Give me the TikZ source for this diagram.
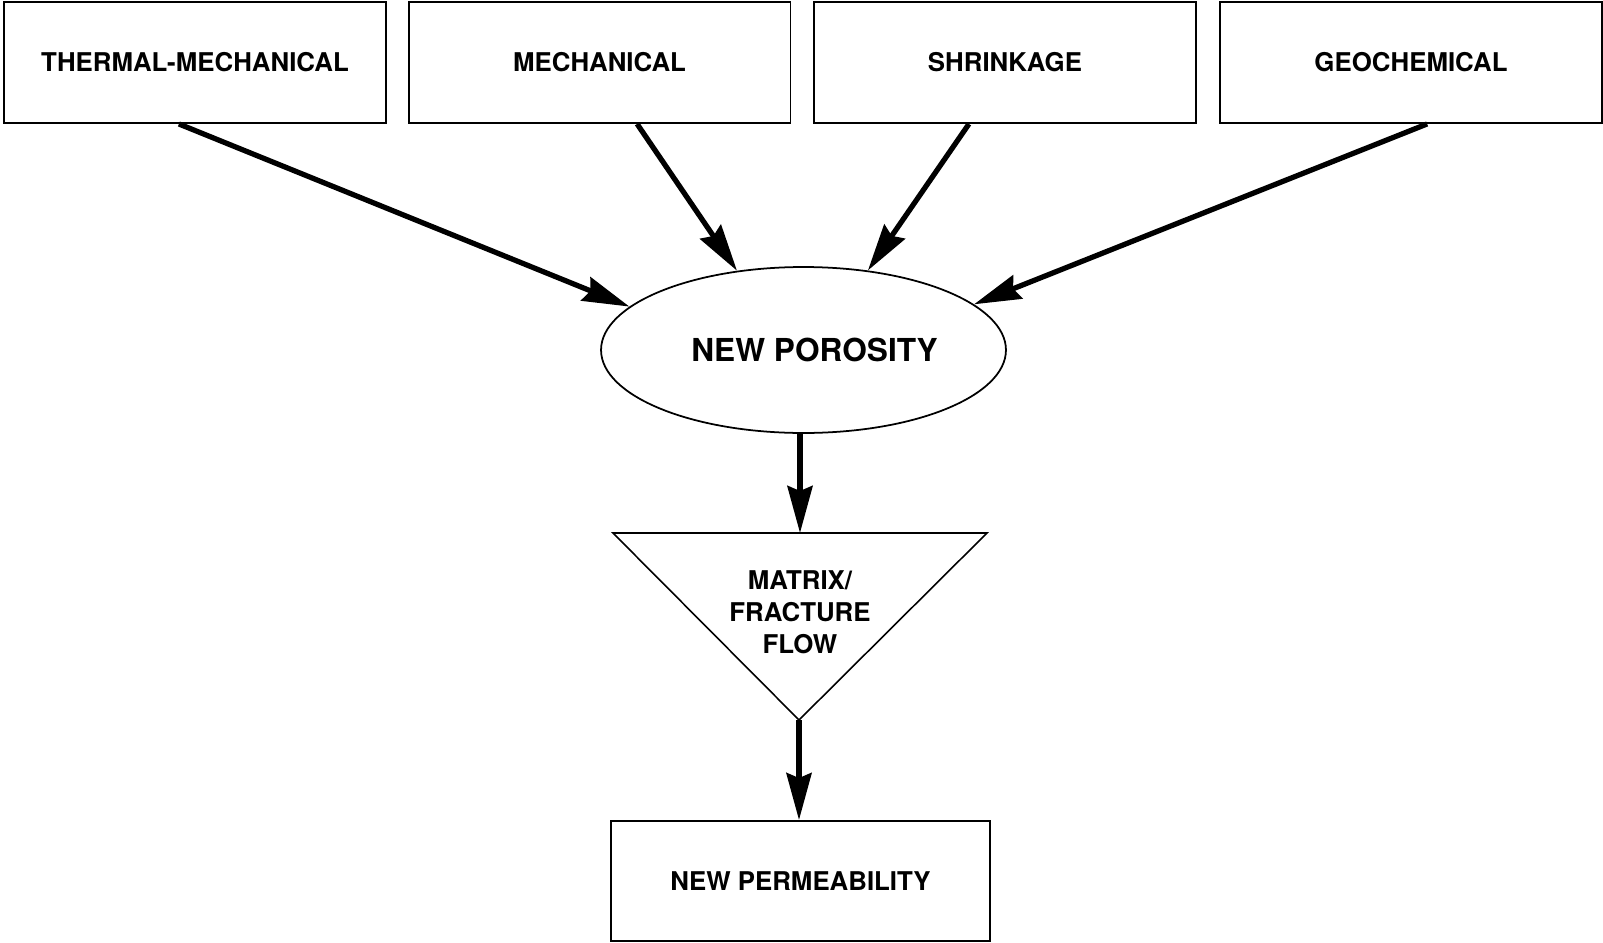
\documentclass[tikz,border=0pt]{standalone}
\usepackage{fontspec}
\setmainfont{TeX Gyre Heros}
\usetikzlibrary{arrows.meta,shapes.geometric,calc}
\tikzset{>={Stealth[length=9.4mm,width=5mm,inset=1mm]},
el/.style={font=\bfseries\fontsize{14.7}{18.2}\selectfont},
ve/.style={rectangle,draw,line width=1.1pt,minimum width=7.64cm,minimum height=2.42cm,inner sep=0pt,el},
va/.style={ellipse,draw,line width=1pt,minimum width=8.1cm,minimum height=3.32cm,inner sep=0pt,font=\bfseries\fontsize{18}{22}\selectfont},
ar/.style={->,line width=3pt},
}
\begin{document}
\begin{tikzpicture}[x=0.02cm,y=-0.02cm]
	\useasboundingbox (0,0) rectangle (1603,943);
	\node[ve] (tm) at (195,62.5) {THERMAL-MECHANICAL};
	\node[ve] (me) at (599.5,62.5) {MECHANICAL};
	\node[ve] (sh) at (1005,62.5) {SHRINKAGE};
	\node[ve] (ge) at (1411,62.5) {GEOCHEMICAL};
	\node[va] (np) at (803.5,350) {\hspace*{0.44cm}NEW POROSITY};

	% flow triangle
	\coordinate (ftl) at (613,533);
	\coordinate (ftr) at (987,533);
	\coordinate (fap) at (799,720);
	\coordinate (ftop) at ($(ftl)!0.5!(ftr)$);
	\draw[line width=0.9pt] (ftl) -- (ftr) -- (fap) -- cycle;
	\node[el,align=center] (fl) at (800,612) {MATRIX/\\FRACTURE\\FLOW};

	\node[ve,minimum width=7.58cm,minimum height=2.4cm] (pe) at (800.5,881) {NEW PERMEABILITY};

	\draw[ar] ($(tm.south west)!0.458!(tm.south east)$) -- (np.166);
	\draw[ar] ($(me.south west)!0.598!(me.south east)$) -- (np.130);
	\draw[ar] ($(sh.south west)!0.406!(sh.south east)$) -- (np.51);
	\draw[ar] ($(ge.south west)!0.542!(ge.south east)$) -- (np.15);
	\draw[ar] (ftop |- np.south) -- (ftop);
	\draw[ar] (fap) -- (fap |- pe.north);
\end{tikzpicture}
\end{document}
